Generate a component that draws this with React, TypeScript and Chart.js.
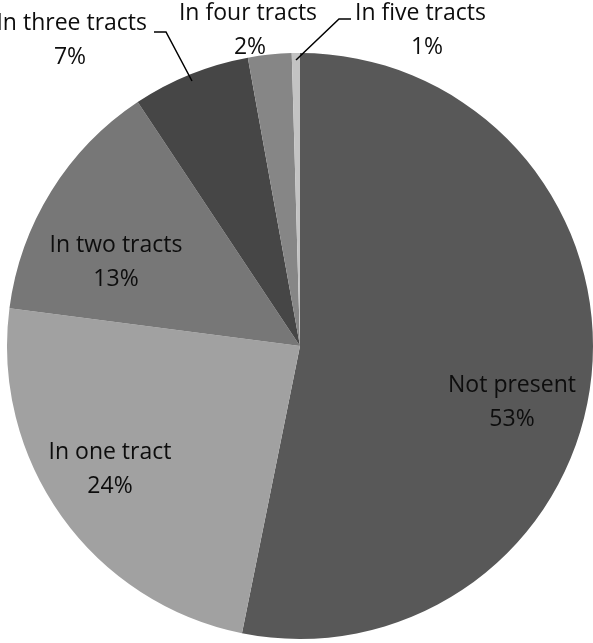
import React, { useEffect, useRef } from "react";
import { Chart, registerables } from "chart.js";

Chart.register(...registerables);

const categories = ["Not present", "In one tract", "In two tracts", "In three tracts", "In four tracts", "In five tracts"];
const values = [53.2, 23.9, 13.6, 6.5, 2.4, 0.45];
const percentLabels = ["53%", "24%", "13%", "7%", "2%", "1%"];
const colors = ["#585858", "#a1a1a1", "#777777", "#464646", "#868686", "#c3c3c3"];

// label placement (first line), alignment, and optional leader line points
const labelPos: Array<{ x: number; y: number; align: string; px: number; line?: number[][] }> = [
  { x: 512, y: 385, align: "center", px: 512 },
  { x: 110, y: 452, align: "center", px: 110 },
  { x: 116, y: 245, align: "center", px: 116 },
  { x: 147, y: 23, align: "right", px: 70, line: [[154, 32], [166, 32], [192, 81]] },
  { x: 248, y: 13, align: "center", px: 250 },
  { x: 355, y: 13, align: "left", px: 427, line: [[351, 19], [339, 19], [296, 60]] },
];

const labelPlugin = {
  id: "pieLabels",
  afterDatasetsDraw(chart: any) {
    const ctx = chart.ctx;
    ctx.save();
    ctx.font = '23px "Open Sans", Lato, sans-serif';
    ctx.fillStyle = "#0d0d0d";
    ctx.textBaseline = "middle";
    categories.forEach((c, i) => {
      const p = labelPos[i];
      ctx.textAlign = p.align;
      ctx.fillText(c, p.x, p.y);
      ctx.textAlign = "center";
      ctx.fillText(percentLabels[i], p.px, p.y + 34);
      if (p.line) {
        ctx.beginPath();
        ctx.strokeStyle = "#000";
        ctx.lineWidth = 1.5;
        p.line.forEach((pt, k) => (k === 0 ? ctx.moveTo(pt[0], pt[1]) : ctx.lineTo(pt[0], pt[1])));
        ctx.stroke();
      }
    });
    ctx.restore();
  },
};

export default function App() {
  const ref = useRef<HTMLCanvasElement>(null);
  useEffect(() => {
    const chart = new Chart(ref.current!, {
      type: "pie",
      data: {
        labels: categories,
        datasets: [{ data: values, backgroundColor: colors, borderWidth: 0 }],
      },
      options: {
        responsive: false,
        animation: false,
        layout: { padding: { left: 7, right: 0, top: 53, bottom: 4 } },
        plugins: { legend: { display: false }, tooltip: { enabled: false } },
      },
      plugins: [labelPlugin],
    });
    return () => chart.destroy();
  }, []);
  return (
    <div style={{ position: "absolute", left: 0, top: 0, width: 593, height: 643, background: "#fff" }}>
      <canvas ref={ref} width={593} height={643} />
    </div>
  );
}
